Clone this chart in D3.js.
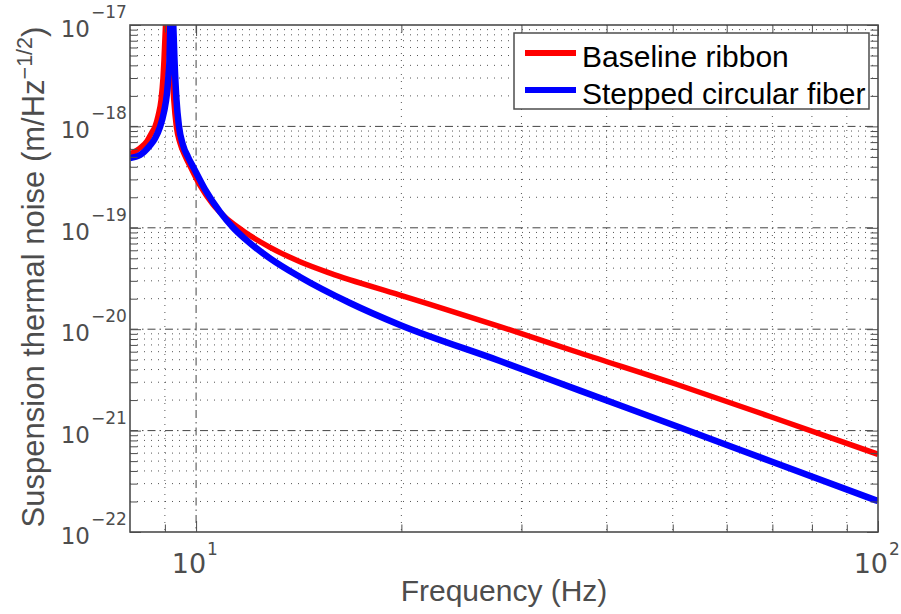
<!DOCTYPE html>
<html><head><meta charset="utf-8">
<script src="https://cdn.jsdelivr.net/npm/d3@7"></script>
<style>body{margin:0;background:#fff} svg{display:block}</style>
</head><body>
<svg id="chart" width="901" height="614"></svg>
<script>
// ---- data ----
const ribbonFreq  = [8.000, 8.275, 8.473, 8.617, 8.705, 8.793, 8.883, 8.943, 8.973, 9.019, 9.080, 9.141, 9.203, 9.275, 9.354, 9.471, 9.633, 9.830, 10.133, 10.588, 11.026, 11.520, 11.796, 12.835, 14.203, 15.717, 19.908, 27.904, 36.56, 51.24, 69.44, 100];
const ribbonNoise = [5.343e-19, 6.124e-19, 7.178e-19, 8.807e-19, 1.0e-18, 1.266e-18, 1.821e-18, 3.0e-18, 4.516e-18, 1.0e-17, 4.0e-17, 1.0e-17, 4.516e-18, 1.821e-18, 1.0e-18, 6.859e-19, 5.105e-19, 3.887e-19, 2.613e-19, 1.698e-19, 1.278e-19, 1.011e-19, 9.028e-20, 6.423e-20, 4.630e-20, 3.576e-20, 2.174e-20, 1.063e-20, 5.825e-21, 2.784e-21, 1.377e-21, 5.84e-22];
const fiberFreq   = [8.000, 8.275, 8.559, 8.705, 8.853, 8.973, 9.065, 9.111, 9.141, 9.166, 9.213, 9.259, 9.297, 9.360, 9.439, 9.568, 9.731, 9.930, 10.306, 10.841, 11.327, 11.796, 12.835, 14.203, 16.815, 19.908, 27.904, 36.56, 51.24, 69.44, 100];
const fiberNoise  = [4.880e-19, 5.224e-19, 6.479e-19, 7.598e-19, 9.865e-19, 1.387e-18, 2.135e-18, 3.212e-18, 4.516e-18, 1.0e-17, 4.0e-17, 1.0e-17, 4.516e-18, 1.821e-18, 1.0e-18, 6.556e-19, 4.992e-19, 3.844e-19, 2.391e-19, 1.435e-19, 1.007e-19, 7.771e-20, 4.991e-20, 3.272e-20, 1.813e-20, 1.100e-20, 4.86e-21, 2.48e-21, 1.073e-21, 5.015e-22, 2.02e-22];
const seriesNames = ["Baseline ribbon", "Stepped circular fiber"];
const seriesColors = ["#ff0000", "#0000ff"];
const xMajorTicks = [10, 100];
const xMinorTicks = [9, 20, 30, 40, 50, 60, 70, 80, 90];
const xTickExponents = ["1", "2"];
const yMajorTicks = [1e-22, 1e-21, 1e-20, 1e-19, 1e-18, 1e-17];
const yTickExponents = ["\u221222", "\u221221", "\u221220", "\u221219", "\u221218", "\u221217"];
const yMinorTicks = [];
[1e-22, 1e-21, 1e-20, 1e-19, 1e-18].forEach(d => [2,3,4,5,6,7,8,9].forEach(m => yMinorTicks.push(m * d)));
const xLabel = "Frequency (Hz)";
const yLabelMain = "Suspension thermal noise (m/Hz";
const yLabelSup = "\u22121/2";

// ---- layout ----
const M = {left:130, right:878, top:25, bottom:532};
const svg = d3.select("#chart");
const x = d3.scaleLog().domain([8, 100]).range([M.left, M.right]);
const y = d3.scaleLog().domain([1e-22, 1e-17]).range([M.bottom, M.top]);
const axisColor = "#4d4d4d";
const sans = "'Liberation Sans', Arial, Helvetica, sans-serif";
const tickFont = "'DejaVu Sans', sans-serif";

svg.append("rect").attr("width", 901).attr("height", 614).attr("fill", "#fff");

// minor grid (dotted)
const grid = svg.append("g");
grid.selectAll("line.xm").data(xMinorTicks).join("line").attr("class","xm")
  .attr("x1", d => x(d)).attr("x2", d => x(d)).attr("y1", M.top).attr("y2", M.bottom);
grid.selectAll("line.ym").data(yMinorTicks).join("line").attr("class","ym")
  .attr("y1", d => y(d)).attr("y2", d => y(d)).attr("x1", M.left).attr("x2", M.right);
grid.selectAll("line.xm, line.ym").attr("stroke", "#555").attr("stroke-width", 1).attr("stroke-dasharray", "1,6");

// major grid (dash-dot)
const grid2 = svg.append("g");
grid2.selectAll("line.xM").data(xMajorTicks.filter(d => d < 100)).join("line").attr("class","xM")
  .attr("x1", d => x(d)).attr("x2", d => x(d)).attr("y1", M.top).attr("y2", M.bottom);
grid2.selectAll("line.yM").data(yMajorTicks.filter(d => d > 1e-22 && d < 1e-17)).join("line").attr("class","yM")
  .attr("y1", d => y(d)).attr("y2", d => y(d)).attr("x1", M.left).attr("x2", M.right);
grid2.selectAll("line").attr("stroke", "#444").attr("stroke-width", 1).attr("stroke-dasharray", "8,4,1.5,4");

// curves
svg.append("clipPath").attr("id", "clip").append("rect")
  .attr("x", M.left).attr("y", M.top).attr("width", M.right - M.left).attr("height", M.bottom - M.top);
const line = d3.line().x(d => x(d[0])).y(d => y(d[1])).curve(d3.curveMonotoneX);
const series = [
  d3.zip(ribbonFreq, ribbonNoise),
  d3.zip(fiberFreq, fiberNoise)
];
const widths = [5.5, 6.5];
const curves = svg.append("g").attr("clip-path", "url(#clip)");
series.forEach((s, i) => {
  curves.append("path").datum(s).attr("d", line).attr("fill", "none")
    .attr("stroke", seriesColors[i]).attr("stroke-width", widths[i]).attr("stroke-linejoin", "round");
});

// axes ticks (inside, all four sides)
function styleAxis(g) {
  g.select(".domain").remove();
  g.selectAll(".tick line").attr("stroke", axisColor).attr("stroke-width", 1);
  g.selectAll(".tick text").remove();
}
const majLen = 11, minLen = 7.5;
svg.append("g").attr("transform", `translate(0,${M.bottom})`).call(d3.axisBottom(x).tickValues(xMajorTicks).tickSize(-majLen).tickFormat("")).call(styleAxis);
svg.append("g").attr("transform", `translate(0,${M.bottom})`).call(d3.axisBottom(x).tickValues(xMinorTicks).tickSize(-minLen).tickFormat("")).call(styleAxis);
svg.append("g").attr("transform", `translate(0,${M.top})`).call(d3.axisTop(x).tickValues(xMajorTicks).tickSize(-majLen).tickFormat("")).call(styleAxis);
svg.append("g").attr("transform", `translate(0,${M.top})`).call(d3.axisTop(x).tickValues(xMinorTicks).tickSize(-minLen).tickFormat("")).call(styleAxis);
svg.append("g").attr("transform", `translate(${M.left},0)`).call(d3.axisLeft(y).tickValues(yMajorTicks).tickSize(-majLen).tickFormat("")).call(styleAxis);
svg.append("g").attr("transform", `translate(${M.left},0)`).call(d3.axisLeft(y).tickValues(yMinorTicks).tickSize(-minLen).tickFormat("")).call(styleAxis);
svg.append("g").attr("transform", `translate(${M.right},0)`).call(d3.axisRight(y).tickValues(yMajorTicks).tickSize(-majLen).tickFormat("")).call(styleAxis);
svg.append("g").attr("transform", `translate(${M.right},0)`).call(d3.axisRight(y).tickValues(yMinorTicks).tickSize(-minLen).tickFormat("")).call(styleAxis);

// box
svg.append("rect").attr("x", M.left).attr("y", M.top).attr("width", M.right - M.left).attr("height", M.bottom - M.top)
  .attr("fill", "none").attr("stroke", axisColor).attr("stroke-width", 1.6);

// y tick labels
const yl = svg.append("g").attr("fill", axisColor).attr("font-family", tickFont);
yMajorTicks.forEach((v, i) => {
  yl.append("text").attr("x", 90).attr("y", y(v) + 12).attr("text-anchor", "end").attr("font-size", 23).text("10");
  yl.append("text").attr("x", 91).attr("y", y(v) - 7).attr("font-size", 17).text(yTickExponents[i]);
});
// x tick labels
xMajorTicks.forEach((v, i) => {
  yl.append("text").attr("x", x(v) + 10).attr("y", 573).attr("text-anchor", "end").attr("font-size", 27).text("10");
  yl.append("text").attr("x", x(v) + 11).attr("y", 555).attr("font-size", 17).text(xTickExponents[i]);
});

// axis labels
svg.append("text").attr("x", 504).attr("y", 601).attr("text-anchor", "middle")
  .attr("font-family", sans).attr("font-size", 30).attr("fill", axisColor).text(xLabel);
const yt = svg.append("text").attr("transform", "translate(44,277) rotate(-90)").attr("text-anchor", "middle")
  .attr("font-family", sans).attr("font-size", 31).attr("fill", axisColor);
yt.append("tspan").text(yLabelMain);
yt.append("tspan").attr("font-size", 21.5).attr("dy", -12).text(yLabelSup);
yt.append("tspan").attr("dy", 12).text(")");

// legend
const lg = svg.append("g");
lg.append("rect").attr("x", 514).attr("y", 33).attr("width", 355).attr("height", 76)
  .attr("fill", "#fff").attr("stroke", axisColor).attr("stroke-width", 1.5);
seriesNames.forEach((n, i) => {
  const cy = 53 + i * 37;
  lg.append("line").attr("x1", 525).attr("x2", 576).attr("y1", cy).attr("y2", cy)
    .attr("stroke", seriesColors[i]).attr("stroke-width", 6);
  lg.append("text").attr("x", 582).attr("y", cy + 13.5).attr("font-family", sans).attr("font-size", 30)
    .attr("fill", "#000").text(n);
});
</script>
</body></html>
